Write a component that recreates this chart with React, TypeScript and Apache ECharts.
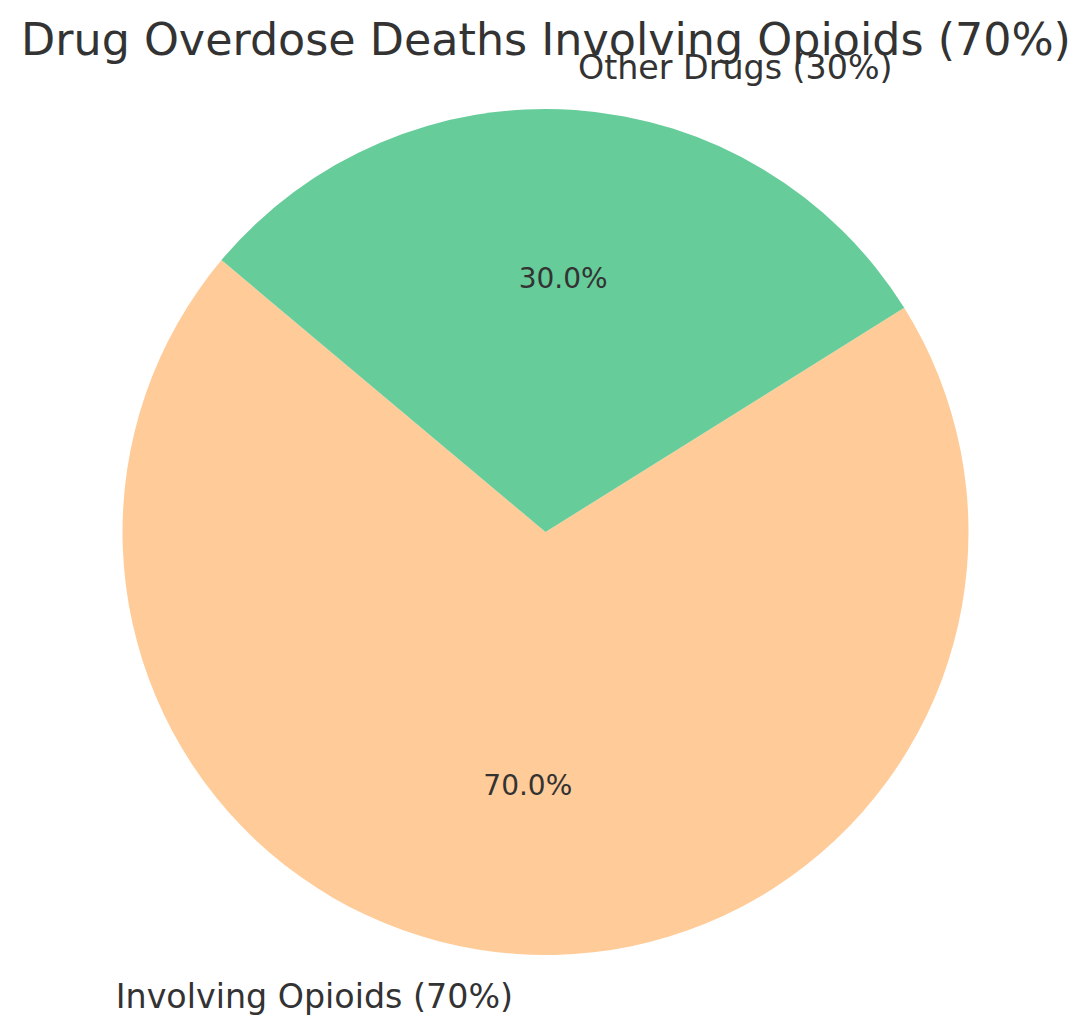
import React, { useEffect, useRef } from "react";
import * as echarts from "echarts";

const categories = ["Involving Opioids", "Other Drugs"];
const shares = [70, 30];
const sliceColors = ["#ffcc99", "#66cc99"];
const chartTitle = "Drug Overdose Deaths Involving Opioids (70%)";

const FONT = "'DejaVu Sans', sans-serif";
const TEXT = "#333333";

export default function App() {
  const chartRef = useRef<HTMLDivElement>(null);

  useEffect(() => {
    document.body.style.margin = "0";
    if (!chartRef.current) return;
    const chart = echarts.init(chartRef.current, undefined, { renderer: "svg" });

    const cx = 545.5;
    const cy = 532;
    const r = 423;

    const pieData = categories.map((name, i) => ({
      name,
      value: shares[i],
      itemStyle: { color: sliceColors[i] },
    }));

    // matplotlib-like label placement: percent at ~0.6r, name at ~1.1r
    const common = {
      type: "pie" as const,
      center: [cx, cy],
      startAngle: 140,
      clockwise: false,
      silent: true,
      avoidLabelOverlap: false,
      labelLine: { show: false },
    };

    chart.setOption({
      animation: false,
      title: {
        text: chartTitle,
        left: "center",
        top: 12,
        textStyle: { fontFamily: FONT, fontSize: 44.4, fontWeight: "normal", color: TEXT },
      },
      series: [
        {
          ...common,
          radius: [0, r],
          label: { show: false },
          data: pieData,
        },
        {
          ...common,
          radius: [0, r * 1.186],
          itemStyle: { color: "transparent" },
          label: {
            show: true,
            position: "inside",
            fontFamily: FONT,
            fontSize: 28,
            color: TEXT,
            formatter: (p: any) => p.percent.toFixed(1) + "%",
          },
          data: categories.map((name, i) => ({ name, value: shares[i] })),
        },
        {
          ...common,
          radius: [0, r * 2.186],
          itemStyle: { color: "transparent" },
          label: {
            show: true,
            position: "inside",
            fontFamily: FONT,
            fontSize: 33.3,
            color: TEXT,
            formatter: (p: any) => `${p.name} (${p.value}%)`,
          },
          labelLayout: (p: any) => ({ align: p.dataIndex === 0 ? "right" : "left" }),
          data: categories.map((name, i) => ({ name, value: shares[i] })),
        },
      ],
    });

    return () => chart.dispose();
  }, []);

  return <div ref={chartRef} style={{ width: 1092, height: 1033 }} />;
}
